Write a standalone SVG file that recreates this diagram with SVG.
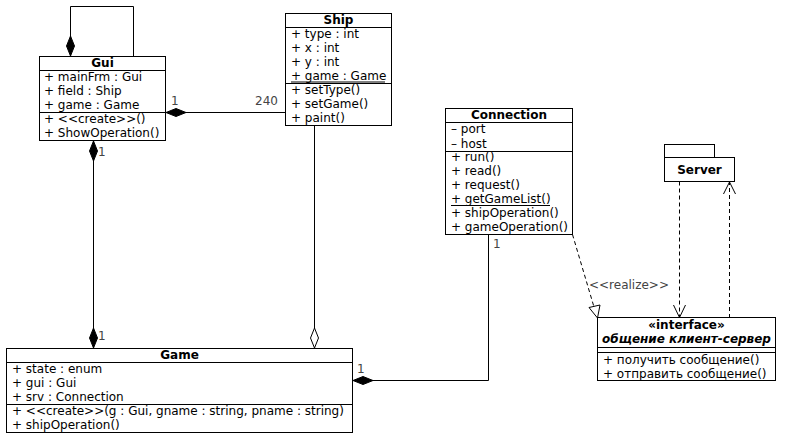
<svg xmlns="http://www.w3.org/2000/svg" width="790" height="445" viewBox="0 0 790 445">
<style>
text{font-family:"DejaVu Sans",sans-serif;font-size:12px;fill:#000}
.t{font-weight:bold;text-anchor:middle}
.lbl{fill:#444}
.box{fill:#fff;stroke:#000;stroke-width:1}
.ln{fill:none;stroke:#000;stroke-width:1}
.dash{fill:none;stroke:#000;stroke-width:1;stroke-dasharray:4,3}
.fd{fill:#000;stroke:#000}
.hd{fill:#fff;stroke:#000}
</style>
<rect width="790" height="445" fill="#fff"/>
<g id="connectors">
<polyline class="ln" points="70.5,37 70.5,6.5 133.5,6.5 133.5,56.5"/>
<polygon class="fd" points="70.5,36 74.5,46 70.5,56 66.5,46"/>
<line class="ln" x1="166" y1="112.5" x2="285.5" y2="112.5"/>
<polygon class="fd" points="166,112.5 176,108.5 186,112.5 176,116.5"/>
<text class="lbl" x="171" y="105">1</text>
<text class="lbl" x="255" y="105">240</text>
<line class="ln" x1="93.5" y1="141" x2="93.5" y2="348"/>
<polygon class="fd" points="93.5,141 97.5,151 93.5,161 89.5,151"/>
<polygon class="fd" points="93.5,328 97.5,338 93.5,348 89.5,338"/>
<text class="lbl" x="98" y="156">1</text>
<text class="lbl" x="98" y="340">1</text>
<line class="ln" x1="314.5" y1="125.5" x2="314.5" y2="328"/>
<polygon class="hd" points="314.5,328 318.5,338 314.5,348 310.5,338"/>
<polyline class="ln" points="488.5,234.5 488.5,380.5 372,380.5"/>
<polygon class="fd" points="353,380.5 363,376.5 373,380.5 363,384.5"/>
<text class="lbl" x="357" y="373">1</text>
<text class="lbl" x="493" y="248">1</text>
<line class="dash" x1="572.5" y1="234.5" x2="594" y2="307"/>
<polygon class="hd" points="597.5,318 589,307.5 600,305"/>
<text class="lbl" x="589" y="289">&lt;&lt;realize&gt;&gt;</text>
<line class="dash" x1="679.5" y1="181.5" x2="679.5" y2="317.5"/>
<polyline class="ln" points="673.5,305 679.5,317.5 685.5,305"/>
<line class="dash" x1="729.5" y1="318" x2="729.5" y2="182"/>
<polyline class="ln" points="723.5,194 729.5,182 735.5,194"/>
</g>
<g id="Gui">
<rect class="box" x="39.5" y="56.5" width="126" height="84"/>
<line class="ln" x1="39.5" y1="70.5" x2="165.5" y2="70.5"/>
<line class="ln" x1="39.5" y1="112.5" x2="165.5" y2="112.5"/>
<text class="t" x="102.5" y="67">Gui</text>
<text x="44" y="81">+ mainFrm : Gui</text>
<text x="44" y="95">+ field : Ship</text>
<text x="44" y="109">+ game : Game</text>
<text x="44" y="123">+ &lt;&lt;create&gt;&gt;()</text>
<text x="44" y="137">+ ShowOperation()</text>
</g>
<g id="Ship">
<rect class="box" x="285.5" y="13.5" width="106" height="112"/>
<line class="ln" x1="285.5" y1="27.5" x2="391.5" y2="27.5"/>
<line class="ln" x1="285.5" y1="83.5" x2="391.5" y2="83.5"/>
<text class="t" x="338.5" y="24">Ship</text>
<text x="291" y="38">+ type : int</text>
<text x="291" y="52">+ x : int</text>
<text x="291" y="66">+ y : int</text>
<text x="291" y="80">+ game : Game</text>
<line class="ln" x1="291" y1="82" x2="385" y2="82"/>
<text x="291" y="94">+ setType()</text>
<text x="291" y="108">+ setGame()</text>
<text x="291" y="122">+ paint()</text>
</g>
<g id="Game">
<rect class="box" x="6.5" y="348.5" width="346" height="84"/>
<line class="ln" x1="6.5" y1="362.5" x2="352.5" y2="362.5"/>
<line class="ln" x1="6.5" y1="404.5" x2="352.5" y2="404.5"/>
<text class="t" x="179.5" y="359">Game</text>
<text x="12" y="373">+ state : enum</text>
<text x="12" y="387">+ gui : Gui</text>
<text x="12" y="401">+ srv : Connection</text>
<text x="12" y="415">+ &lt;&lt;create&gt;&gt;(g : Gui, gname : string, pname : string)</text>
<text x="12" y="429">+ shipOperation()</text>
</g>
<g id="Connection">
<rect class="box" x="445.5" y="108.5" width="127" height="126"/>
<line class="ln" x1="445.5" y1="122.5" x2="572.5" y2="122.5"/>
<line class="ln" x1="445.5" y1="151.5" x2="572.5" y2="151.5"/>
<text class="t" x="509" y="119">Connection</text>
<text x="451" y="133">– port</text>
<text x="451" y="148">– host</text>
<text x="451" y="161">+ run()</text>
<text x="451" y="175">+ read()</text>
<text x="451" y="189">+ request()</text>
<text x="451" y="203">+ getGameList()</text>
<line class="ln" x1="451" y1="205.5" x2="550" y2="205.5"/>
<text x="451" y="217">+ shipOperation()</text>
<text x="451" y="231">+ gameOperation()</text>
</g>
<g id="Server">
<rect class="box" x="664.5" y="144.5" width="50" height="13"/>
<rect class="box" x="664.5" y="157.5" width="70" height="24"/>
<text class="t" x="699.5" y="174">Server</text>
</g>
<g id="Interface">
<rect class="box" x="597.5" y="317.5" width="178" height="63"/>
<line class="ln" x1="597.5" y1="347.5" x2="775.5" y2="347.5"/>
<line class="ln" x1="597.5" y1="352.5" x2="775.5" y2="352.5"/>
<text class="t" x="686.5" y="329">«interface»</text>
<text class="t" x="686.5" y="343" font-style="italic">общение клиент-сервер</text>
<text x="603" y="364">+ получить сообщение()</text>
<text x="603" y="378">+ отправить сообщение()</text>
</g>
</svg>
